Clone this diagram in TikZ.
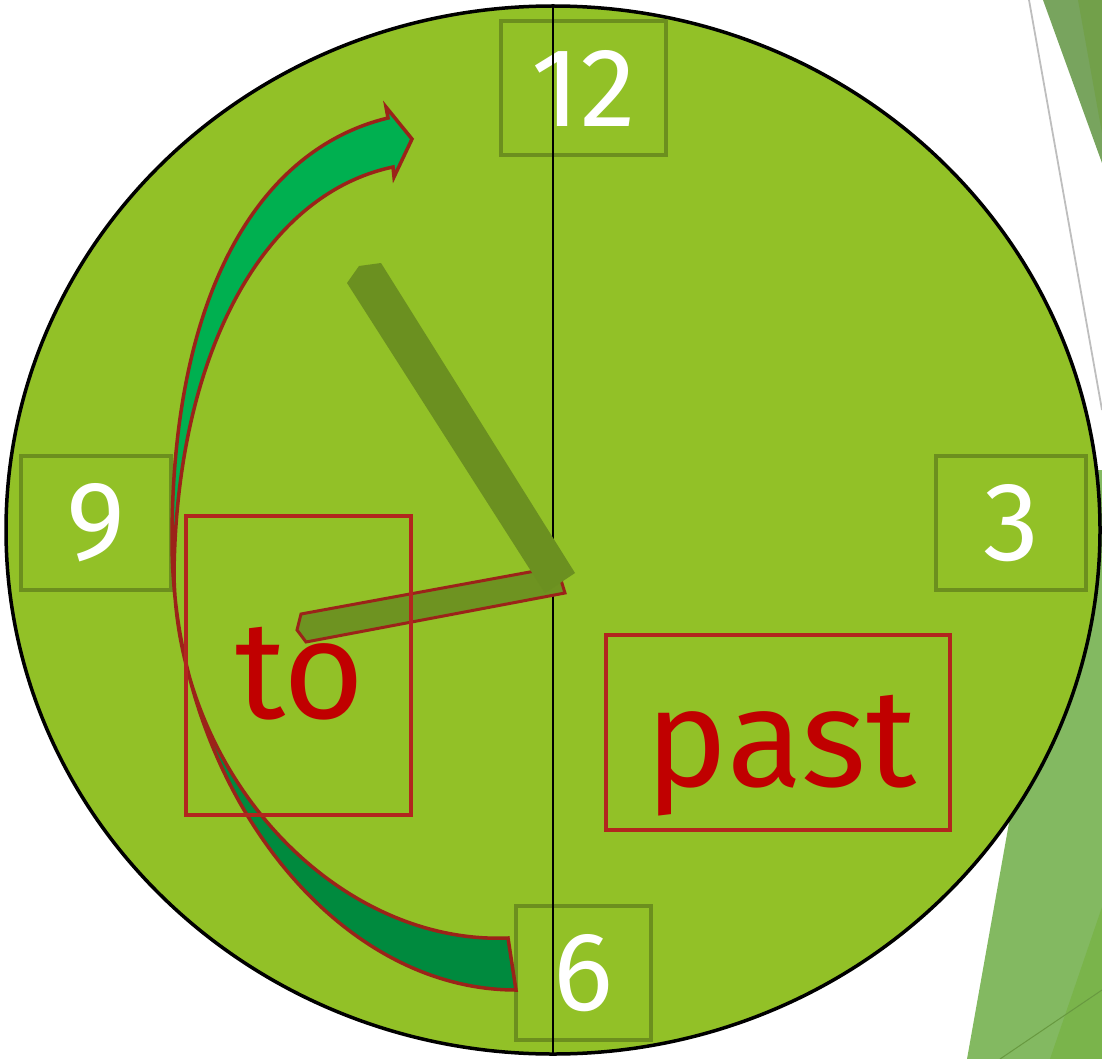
\documentclass[tikz,border=0pt]{standalone}
\usepackage{fontspec}
\setmainfont{Fira Sans}
\definecolor{face}{RGB}{146,193,39}
\definecolor{olivebox}{RGB}{108,143,30}
\definecolor{boxred}{RGB}{178,38,30}
\definecolor{txtred}{RGB}{192,0,0}
\definecolor{arrowlight}{RGB}{0,176,80}
\definecolor{arrowdark}{RGB}{0,138,62}
\definecolor{arrowline}{RGB}{155,35,25}
\definecolor{handfill}{RGB}{110,147,33}
\definecolor{minutefill}{RGB}{107,144,32}
\definecolor{bggreenA}{RGB}{120,164,94}
\definecolor{bggreenB}{RGB}{114,160,74}
\definecolor{bggreenC}{RGB}{131,185,97}
\definecolor{bggreenD}{RGB}{122,180,75}
\definecolor{bgline}{RGB}{190,190,190}
\newcommand{\ArrowShape}{(388,118) .. controls (255,150) and (172,300) .. (172,540) .. controls (172,780) and (330,990) .. (516,990) -- (508,938) .. controls (340,945) and (178,780) .. (174,575) .. controls (176,360) and (260,195) .. (393,167) -- (394,177) -- (412,139) -- (386,107) -- cycle}
\begin{document}
\begin{tikzpicture}[x=1pt,y=-1pt,
  numbox/.style={draw=olivebox,line width=4pt,inner sep=0pt,text=white,font=\fontsize{112}{112}\selectfont},
  wordbox/.style={draw=boxred,line width=3.5pt,inner sep=0pt},
  word/.style={text=txtred,font=\fontsize{139}{139}\selectfont,anchor=base,inner sep=0pt},
  handline/.style={draw=arrowline,line width=3pt,line join=miter},
]
\useasboundingbox (0,0) rectangle (1102,1059);
% background decoration
\fill[bggreenA] (1043,0) -- (1102,0) -- (1102,163) -- cycle;
\fill[bggreenB] (1078,0) -- (1102,0) -- (1102,133) -- cycle;
\draw[bgline, line width=1.8pt] (1029,0) -- (1102,410);
\begin{scope}
  \clip (900,470) rectangle (1102,1059);
  \fill[bggreenC] (967,1059) -- (1102,300) -- (1102,1059) -- cycle;
\end{scope}
\fill[bggreenD] (1050,1059) -- (1102,907) -- (1102,1059) -- cycle;
\draw[bggreenD!85!black, line width=1pt] (1000,1059) -- (1102,990);
% clock face
\draw[fill=face, line width=3.5pt] (553,530) ellipse [x radius=547, y radius=524];
% number boxes
\node[numbox, minimum width=165pt, minimum height=134pt] (n12) at (583.5,88) {12};
\node[numbox, minimum width=150pt, minimum height=134pt] (n9) at (96,523) {9};
\node[numbox, minimum width=150pt, minimum height=134pt] (n3) at (1011,523) {3};
\node[numbox, minimum width=135pt, minimum height=134pt] (n6) at (583.5,973) {6};
% vertical line
\coordinate (vtop) at (553,6);
\coordinate (vbot) at (553,1054);
\draw[line width=2.2pt] (vtop) -- (vbot);
% hands
\fill[handfill, handline] (301,614) -- (557,567) -- (565,593) -- (306,642) -- (297,630) -- cycle;
\fill[minutefill] (347,283) -- (359,266) -- (381,263) -- (575,573) -- (545,593) -- cycle;
% curved arrow
\begin{scope}
  \clip (0,0) rectangle (1102,575);
  \fill[arrowlight] \ArrowShape;
\end{scope}
\begin{scope}
  \clip (0,575) rectangle (1102,1059);
  \fill[arrowdark] \ArrowShape;
\end{scope}
\draw[arrowline, line width=3.5pt, line join=miter] \ArrowShape;
% word boxes
\node[wordbox, minimum width=225pt, minimum height=299pt] (boxto) at (298.5,665.5) {};
\node[wordbox, minimum width=344pt, minimum height=195pt] (boxpast) at (778,732.5) {};
\node[word] (to) at (300,718) {to};
\node[word] (past) at (781,786) {past};
\end{tikzpicture}
\end{document}
